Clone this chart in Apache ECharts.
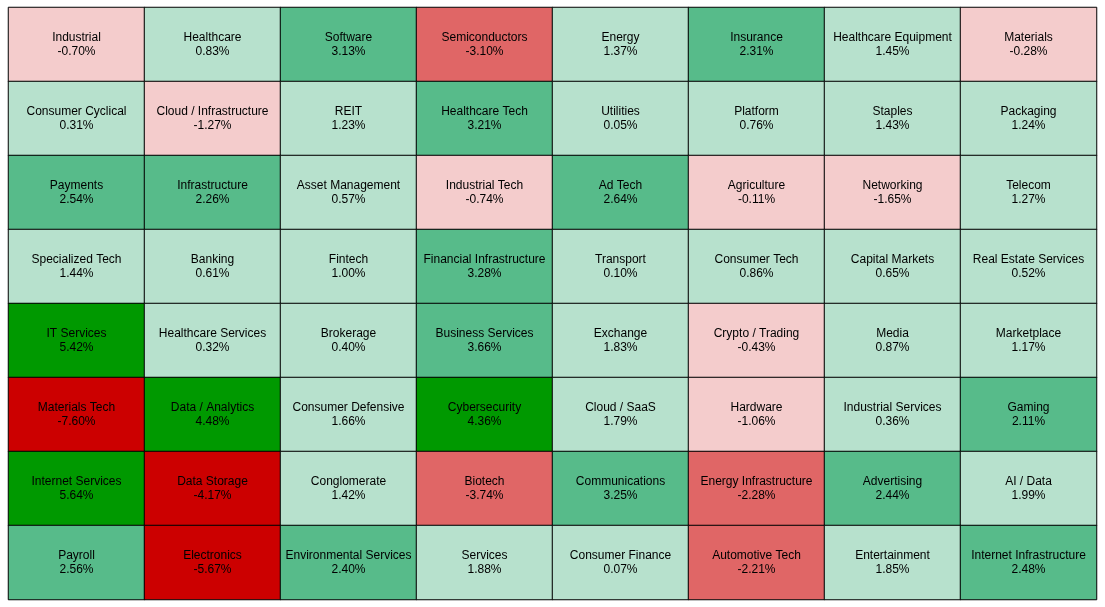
<!DOCTYPE html>
<html>
<head>
<meta charset="utf-8">
<script src="https://cdn.jsdelivr.net/npm/echarts@6/dist/echarts.min.js"></script>
<style>
  html, body { margin: 0; padding: 0; background: #fff; }
  #main { width: 1105px; height: 607px; }
</style>
</head>
<body>
<div id="main"></div>
<script>
// 8 x 8 grid, row-major
var cols = 8;
var sectors = [
    'Industrial', 'Healthcare', 'Software', 'Semiconductors', 'Energy', 'Insurance', 'Healthcare Equipment', 'Materials',
    'Consumer Cyclical', 'Cloud / Infrastructure', 'REIT', 'Healthcare Tech', 'Utilities', 'Platform', 'Staples', 'Packaging',
    'Payments', 'Infrastructure', 'Asset Management', 'Industrial Tech', 'Ad Tech', 'Agriculture', 'Networking', 'Telecom',
    'Specialized Tech', 'Banking', 'Fintech', 'Financial Infrastructure', 'Transport', 'Consumer Tech', 'Capital Markets', 'Real Estate Services',
    'IT Services', 'Healthcare Services', 'Brokerage', 'Business Services', 'Exchange', 'Crypto / Trading', 'Media', 'Marketplace',
    'Materials Tech', 'Data / Analytics', 'Consumer Defensive', 'Cybersecurity', 'Cloud / SaaS', 'Hardware', 'Industrial Services', 'Gaming',
    'Internet Services', 'Data Storage', 'Conglomerate', 'Biotech', 'Communications', 'Energy Infrastructure', 'Advertising', 'AI / Data',
    'Payroll', 'Electronics', 'Environmental Services', 'Services', 'Consumer Finance', 'Automotive Tech', 'Entertainment', 'Internet Infrastructure'
];
var changes = [
    -0.70, 0.83, 3.13, -3.10, 1.37, 2.31, 1.45, -0.28,
    0.31, -1.27, 1.23, 3.21, 0.05, 0.76, 1.43, 1.24,
    2.54, 2.26, 0.57, -0.74, 2.64, -0.11, -1.65, 1.27,
    1.44, 0.61, 1.00, 3.28, 0.10, 0.86, 0.65, 0.52,
    5.42, 0.32, 0.40, 3.66, 1.83, -0.43, 0.87, 1.17,
    -7.60, 4.48, 1.66, 4.36, 1.79, -1.06, 0.36, 2.11,
    5.64, -4.17, 1.42, -3.74, 3.25, -2.28, 2.44, 1.99,
    2.56, -5.67, 2.40, 1.88, 0.07, -2.21, 1.85, 2.48
];

var xs = [], ys = [];
for (var i = 0; i < cols; i++) { xs.push(i); ys.push(i); }

var data = changes.map(function (v, i) {
    return [i % cols, Math.floor(i / cols), v];
});

var chart = echarts.init(document.getElementById('main'));
chart.setOption({
    animation: false,
    grid: { left: 8.5, top: 7.5, width: 1088, height: 592 },
    xAxis: { type: 'category', data: xs, show: false },
    yAxis: { type: 'category', data: ys, show: false, inverse: true },
    visualMap: {
        type: 'piecewise',
        show: false,
        dimension: 2,
        pieces: [
            { lt: -4, color: '#cc0000' },
            { gte: -4, lt: -2, color: '#e06666' },
            { gte: -2, lt: 0, color: '#f4cccc' },
            { gte: 0, lt: 2, color: '#b7e1cd' },
            { gte: 2, lt: 4, color: '#57bb8a' },
            { gte: 4, color: '#009900' }
        ]
    },
    series: [{
        type: 'heatmap',
        data: data,
        itemStyle: { borderColor: '#000', borderWidth: 1 },
        emphasis: { disabled: true },
        label: {
            show: true,
            color: '#000',
            fontSize: 12,
            lineHeight: 14,
            fontFamily: 'Arial, "Liberation Sans", sans-serif',
            formatter: function (p) {
                return sectors[p.dataIndex] + '\n' + p.value[2].toFixed(2) + '%';
            }
        }
    }]
});
</script>
</body>
</html>
